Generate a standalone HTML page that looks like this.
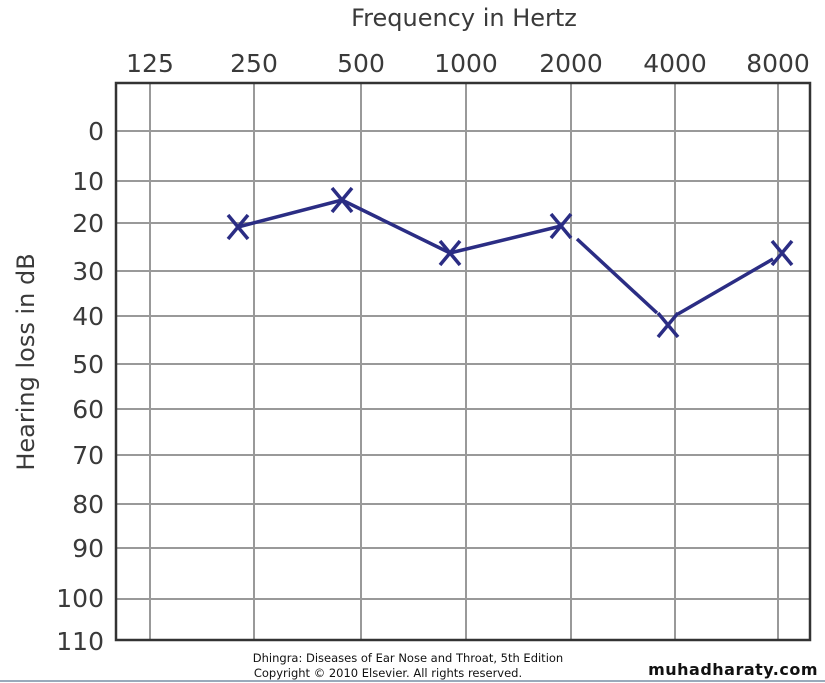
<!DOCTYPE html>
<html><head><style>
body{margin:0;background:#fff;}
svg{display:block;}
</style></head><body>
<svg width="825" height="683" xmlns="http://www.w3.org/2000/svg" font-family="'DejaVu Sans','Liberation Sans',sans-serif">
<rect width="825" height="683" fill="#fff"/>
<text x="464" y="26" font-size="24" fill="#3a3a3a" text-anchor="middle">Frequency in Hertz</text>
<g font-size="25" fill="#3a3a3a" text-anchor="middle">
<text x="150" y="72">125</text><text x="254" y="72">250</text><text x="361" y="72">500</text><text x="466" y="72">1000</text><text x="571" y="72">2000</text><text x="675" y="72">4000</text><text x="778" y="72">8000</text>
</g>
<g font-size="25" fill="#3a3a3a" text-anchor="end">
<text x="104" y="140">0</text><text x="104" y="190">10</text><text x="104" y="232">20</text><text x="104" y="280">30</text><text x="104" y="325">40</text><text x="104" y="373">50</text><text x="104" y="418">60</text><text x="104" y="464">70</text><text x="104" y="513">80</text><text x="104" y="557">90</text><text x="104" y="607">100</text><text x="104" y="650">110</text>
</g>
<text transform="translate(34,362) rotate(-90)" font-size="24" fill="#3a3a3a" text-anchor="middle">Hearing loss in dB</text>
<g stroke="#999" stroke-width="2">
<line x1="150" y1="83" x2="150" y2="640"/><line x1="254" y1="83" x2="254" y2="640"/><line x1="361" y1="83" x2="361" y2="640"/><line x1="466" y1="83" x2="466" y2="640"/><line x1="571" y1="83" x2="571" y2="640"/><line x1="675" y1="83" x2="675" y2="640"/><line x1="778" y1="83" x2="778" y2="640"/>
<line x1="116" y1="131" x2="810" y2="131"/><line x1="116" y1="181" x2="810" y2="181"/><line x1="116" y1="223" x2="810" y2="223"/><line x1="116" y1="271" x2="810" y2="271"/><line x1="116" y1="316" x2="810" y2="316"/><line x1="116" y1="364" x2="810" y2="364"/><line x1="116" y1="409" x2="810" y2="409"/><line x1="116" y1="455" x2="810" y2="455"/><line x1="116" y1="504" x2="810" y2="504"/><line x1="116" y1="548" x2="810" y2="548"/><line x1="116" y1="599" x2="810" y2="599"/>
</g>
<path d="M116 83V640H810V83Z" fill="none" stroke="#333" stroke-width="2.5"/>
<g stroke="#2b2d84" stroke-width="3.5" fill="none">
<polyline points="238,227 342,200 450,253 561,226"/>
<line x1="577" y1="239" x2="657" y2="313"/>
<line x1="678" y1="314" x2="773" y2="259"/>
<path d="M228 215l20 24M248 215l-20 24M332 188l20 24M352 188l-20 24M440 241l20 24M460 241l-20 24M551 214l20 24M571 214l-20 24M658 313l20 24M678 313l-20 24M772 241l20 24M792 241l-20 24"/>
</g>
<text x="408" y="662" font-size="11.5" fill="#111" text-anchor="middle">Dhingra: Diseases of Ear Nose and Throat, 5th Edition</text>
<text x="388" y="677" font-size="11.5" fill="#111" text-anchor="middle">Copyright © 2010 Elsevier. All rights reserved.</text>
<text x="818" y="675" font-size="16" font-weight="bold" fill="#111" text-anchor="end" letter-spacing="0.5">muhadharaty.com</text>
<line x1="0" y1="681" x2="825" y2="681" stroke="#9ab" stroke-width="2"/>
</svg>
</body></html>
